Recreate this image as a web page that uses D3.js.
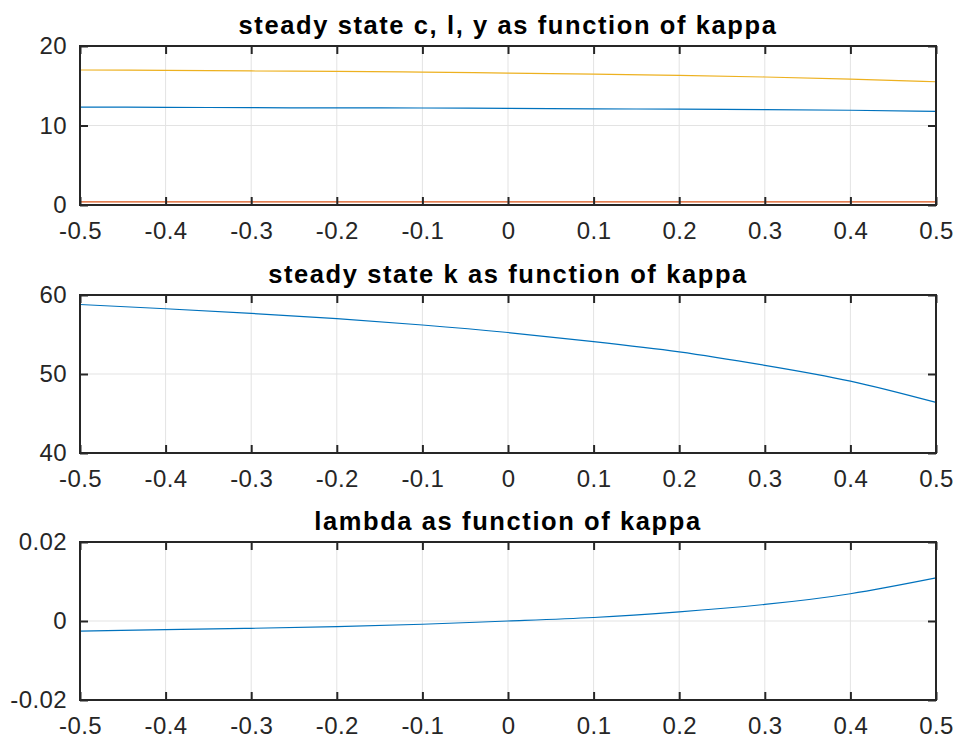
<!DOCTYPE html>
<html>
<head>
<meta charset="utf-8">
<script src="https://cdn.jsdelivr.net/npm/d3@7"></script>
<style>
    body { margin: 0; background: #fff; }
    svg text { font-family: "Liberation Sans", Arial, Helvetica, sans-serif; }
</style>
</head>
<body>
<div id="chart"></div>
<script>

// kappa grid
const kappa = [-0.5, -0.4, -0.3, -0.2, -0.1, 0, 0.1, 0.2, 0.3, 0.4, 0.5];

// steady state c, l, y
const cValues = [12.31, 12.29, 12.24, 12.22, 12.20, 12.15, 12.10, 12.05, 12.00, 11.92, 11.77];
const lValues = [0.40, 0.40, 0.40, 0.40, 0.40, 0.40, 0.40, 0.40, 0.40, 0.40, 0.40];
const yValues = [16.98, 16.93, 16.86, 16.80, 16.72, 16.60, 16.47, 16.30, 16.10, 15.84, 15.50];

// steady state k
const kValues = [58.8, 58.26, 57.67, 57.0, 56.2, 55.25, 54.1, 52.8, 51.1, 49.1, 46.4];

// lambda
const lambdaValues = [-0.00254, -0.0022, -0.00185, -0.00142, -0.00082, 0, 0.00088, 0.0023, 0.0042, 0.0069, 0.0109];

const xTicks = [-0.5, -0.4, -0.3, -0.2, -0.1, 0, 0.1, 0.2, 0.3, 0.4, 0.5];

const titles = ["steady state c, l, y as function of kappa",
    "steady state k as function of kappa",
    "lambda as function of kappa"];

const yDomains = [[0, 20], [40, 60], [-0.02, 0.02]];
const yTicks = [[0, 10, 20], [40, 50, 60], [-0.02, 0, 0.02]];

const colors = ["#0072BD", "#D95319", "#EDB120"];

class SubPlot {
    constructor(svg, box, title, series, yDomain, yTickVals){
        this.svg = svg;
        this.box = box;
        this.title = title;
        this.series = series;
        this.yDomain = yDomain;
        this.yTickVals = yTickVals;
        this.initVis();
    }

    initVis(){
        let vis = this;
        let b = vis.box;

        vis.g = vis.svg.append("g")
            .attr("transform", `translate(${b.left}, ${b.top})`);

        vis.x = d3.scaleLinear().domain([-0.5, 0.5]).range([0, b.width]);
        vis.y = d3.scaleLinear().domain(vis.yDomain).range([b.height, 0]);

        // grid lines
        vis.g.append("g").selectAll("line.vgrid")
            .data(xTicks.slice(1, -1))
            .enter().append("line")
            .attr("x1", d => vis.x(d)).attr("x2", d => vis.x(d))
            .attr("y1", 0).attr("y2", b.height)
            .attr("stroke", "#e3e3e3").attr("stroke-width", 1);
        vis.g.append("g").selectAll("line.hgrid")
            .data(vis.yTickVals.slice(1, -1))
            .enter().append("line")
            .attr("x1", 0).attr("x2", b.width)
            .attr("y1", d => vis.y(d)).attr("y2", d => vis.y(d))
            .attr("stroke", "#e3e3e3").attr("stroke-width", 1);

        // data lines
        let line = d3.line()
            .x((d, i) => vis.x(kappa[i]))
            .y(d => vis.y(d))
            .curve(d3.curveNatural);

        vis.series.forEach((s, i) => {
            vis.g.append("path")
                .datum(s.values)
                .attr("fill", "none")
                .attr("stroke", s.color)
                .attr("stroke-width", 1.2)
                .attr("d", line);
        });

        // axes, ticks pointing inward, box on
        let tickLen = 8;
        let fmt = d => d3.format("")(d).replace("−", "-");

        let xAxisB = d3.axisBottom(vis.x).tickValues(xTicks).tickSizeInner(-tickLen).tickSizeOuter(0)
            .tickPadding(tickLen + 9).tickFormat(fmt);
        let xAxisT = d3.axisTop(vis.x).tickValues(xTicks).tickSizeInner(-tickLen).tickSizeOuter(0).tickFormat("");
        let yAxisL = d3.axisLeft(vis.y).tickValues(vis.yTickVals).tickSizeInner(-tickLen).tickSizeOuter(0)
            .tickPadding(tickLen + 5).tickFormat(fmt);
        let yAxisR = d3.axisRight(vis.y).tickValues(vis.yTickVals).tickSizeInner(-tickLen).tickSizeOuter(0).tickFormat("");

        let axes = [
            vis.g.append("g").attr("transform", `translate(0, ${b.height})`).call(xAxisB),
            vis.g.append("g").call(xAxisT),
            vis.g.append("g").call(yAxisL),
            vis.g.append("g").attr("transform", `translate(${b.width}, 0)`).call(yAxisR)
        ];
        axes.forEach(a => {
            a.select(".domain").remove();
            a.selectAll(".tick line").attr("stroke", "#262626").attr("stroke-width", 2);
            a.selectAll(".tick text")
                .attr("fill", "#262626")
                .style("font-size", "24px")
                .style("letter-spacing", "0.4px");
        });

        // box
        vis.g.append("rect")
            .attr("x", 0).attr("y", 0)
            .attr("width", b.width).attr("height", b.height)
            .attr("fill", "none")
            .attr("stroke", "#262626")
            .attr("stroke-width", 2);

        // title
        vis.g.append("text")
            .attr("x", b.width / 2)
            .attr("y", -12)
            .attr("text-anchor", "middle")
            .attr("fill", "#000")
            .style("font-size", "25.5px")
            .style("font-weight", "bold")
            .style("letter-spacing", "1.6px")
            .text(vis.title);
    }
}

let svg = d3.select("#chart").append("svg")
    .attr("width", 958)
    .attr("height", 743);

let boxes = [
    {left: 80, top: 46, width: 856, height: 159},
    {left: 80, top: 295, width: 856, height: 158},
    {left: 80, top: 542, width: 856, height: 158}
];

let allSeries = [
    [{values: cValues, color: colors[0]}, {values: lValues, color: colors[1]}, {values: yValues, color: colors[2]}],
    [{values: kValues, color: colors[0]}],
    [{values: lambdaValues, color: colors[0]}]
];

let plots = boxes.map((b, i) => new SubPlot(svg, b, titles[i], allSeries[i], yDomains[i], yTicks[i]));

</script>
</body>
</html>
